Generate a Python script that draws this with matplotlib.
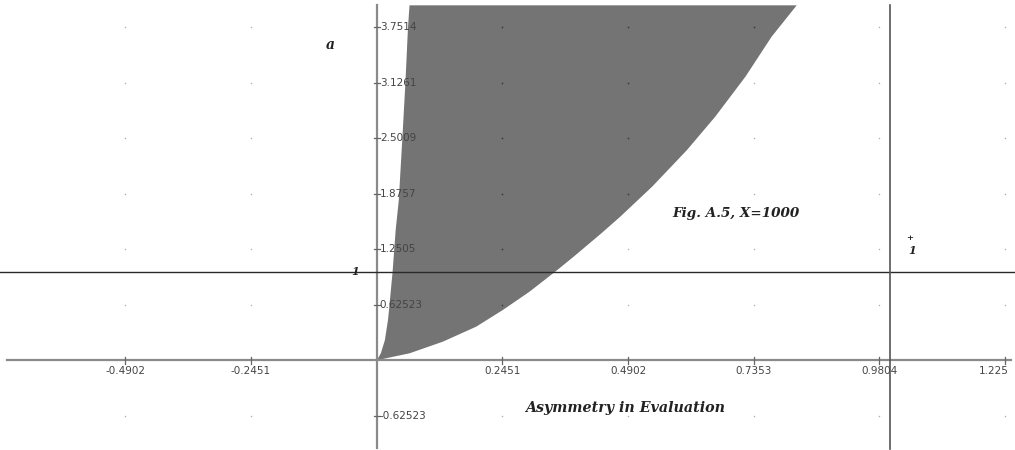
import numpy as np
import matplotlib.pyplot as plt

# edges of the admissible region, as (a, asymmetry) pairs
left_a = [0, 0.08, 0.23, 0.456, 0.569, 1.0, 1.47, 1.8, 2.5, 3.13, 3.75, 4.0]
left_x = [0, 0.008, 0.016, 0.022, 0.024, 0.031, 0.037, 0.043, 0.050, 0.056, 0.061, 0.064]
right_a = [0, 0.025, 0.081, 0.212, 0.381, 0.569, 0.775, 1.0, 1.169, 1.432, 1.62, 1.957,
           2.37, 2.745, 3.196, 3.646, 4.0]
right_x = [0, 0.018, 0.064, 0.129, 0.194, 0.246, 0.298, 0.348, 0.384, 0.438, 0.475, 0.537,
           0.605, 0.660, 0.719, 0.770, 0.819]

x_ticks = [-0.4902, -0.2451, 0.2451, 0.4902, 0.7353, 0.9804, 1.225]
y_ticks = [-0.62523, 0.62523, 1.2505, 1.8757, 2.5009, 3.1261, 3.7514]

fig = plt.figure(figsize=(10.15, 4.5), dpi=100)
ax = fig.add_axes([0, 0, 1, 1])
ax.set_xlim(-0.7346, 1.2447)
ax.set_ylim(-1.008, 4.06)
ax.axis("off")

# shaded region
poly_x = np.concatenate([left_x, right_x[::-1]])
poly_a = np.concatenate([left_a, right_a[::-1]])
ax.fill(poly_x, poly_a, color="#747474", lw=0, zorder=1)

# dotted grid
gx, gy = np.meshgrid(x_ticks, y_ticks)
inside = ((gy >= 0) & (gx >= np.interp(gy, left_a, left_x))
          & (gx <= np.interp(gy, right_a, right_x)))
ax.scatter(gx[~inside], gy[~inside], s=1.2, color="#b0b0b0", lw=0, zorder=2)
ax.scatter(gx[inside], gy[inside], s=1.5, color="#3a3a3a", lw=0, zorder=2)

# coordinate axes
ax.plot([-0.721, 1.236], [0, 0], color="#8a8a8a", lw=1.6, zorder=3)
ax.plot([0, 0], [-0.985, 4.0], color="#8a8a8a", lw=1.6, zorder=3)

# reference lines a = 1 and asymmetry = 1
ax.axhline(1.0, color="#2a2a2a", lw=1.0, zorder=3)
ax.plot([1.0, 1.0], [-1.0, 4.0], color="#555555", lw=1.2, zorder=3)

# tick marks and labels
for xt in x_ticks:
    ax.plot([xt, xt], [-0.035, 0.035], color="#666666", lw=0.9, zorder=3)
    if xt == x_ticks[-1]:
        ax.text(1.2315, -0.12, f"{xt:g}", ha="right", va="center",
                fontsize=7.5, color="#444444", zorder=4)
    else:
        ax.text(xt, -0.12, f"{xt:g}", ha="center", va="center",
                fontsize=7.5, color="#444444", zorder=4)
for yt in y_ticks:
    ax.plot([-0.006, 0.006], [yt, yt], color="#666666", lw=0.9, zorder=3)
    ax.text(0.006, yt, f"{yt:g}", ha="left", va="center",
            fontsize=7.5, color="#444444", zorder=4)

serif = dict(family="DejaVu Serif", style="italic", fontweight="bold", color="#222222", zorder=4)
ax.text(-0.09, 3.55, "a", fontsize=10, ha="center", va="center", **serif)
ax.text(-0.043, 1.0, "1", fontsize=8, ha="center", va="center", **serif)
ax.text(0.577, 1.65, "Fig. A.5, X=1000", fontsize=9.7, ha="left", va="center", **serif)
ax.text(1.04, 1.38, "+", fontsize=6, ha="center", va="center", **serif)
ax.text(1.045, 1.24, "1", fontsize=8, ha="center", va="center", **serif)
ax.text(0.485, -0.54, "Asymmetry in Evaluation", fontsize=10.3, ha="center", va="center", **serif)

fig.savefig("out.png", dpi=100)
